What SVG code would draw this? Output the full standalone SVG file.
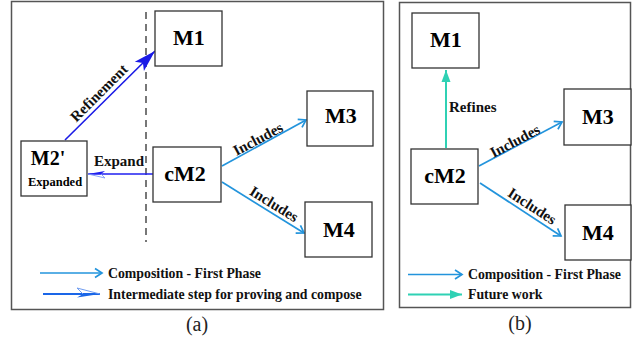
<svg xmlns="http://www.w3.org/2000/svg" width="632" height="340" viewBox="0 0 632 340">
  <style>
    .frame { fill: none; stroke: #555; stroke-width: 1.5; }
    .box { fill: #fff; stroke: #333; stroke-width: 1.3; }
    .node { font-family: "Liberation Serif", "Times New Roman", serif; font-weight: bold; font-size: 22px; fill: #000; text-anchor: middle; }
    .lbl { font-family: "Liberation Serif", "Times New Roman", serif; font-weight: bold; font-size: 15px; fill: #111; }
    .leg { font-family: "Liberation Serif", "Times New Roman", serif; font-weight: bold; font-size: 13.8px; fill: #111; }
    .cap { font-family: "Liberation Serif", "Times New Roman", serif; font-size: 20px; fill: #222; text-anchor: middle; }
    .comp { fill: none; stroke: #2394dc; stroke-width: 1.7; marker-end: url(#chev); }
    .refine { fill: none; stroke: #1a1ae6; stroke-width: 1.6; marker-end: url(#solidBlue); }
    .expand { fill: none; stroke: #1f1ff0; stroke-width: 1.5; marker-end: url(#harpoon); }
    .future { fill: none; stroke: #2fd1b4; stroke-width: 2; marker-end: url(#solidTeal); }
  </style>
  <defs>
    <marker id="chev" markerUnits="userSpaceOnUse" viewBox="-10 -7 12 14" refX="0" refY="0" markerWidth="12" markerHeight="14" orient="auto" overflow="visible">
      <path d="M-7,-4.5 L0,0 L-7,4.5" fill="none" stroke="#2394dc" stroke-width="1.7"/>
    </marker>
    <marker id="solidBlue" markerUnits="userSpaceOnUse" viewBox="-24 -9 26 18" refX="0" refY="0" markerWidth="26" markerHeight="18" orient="auto" overflow="visible">
      <path d="M0,0 L-22,-6.5 L-17,0 L-22,6.5 Z" fill="#1a1ae6"/>
    </marker>
    <marker id="harpoon" markerUnits="userSpaceOnUse" viewBox="-20 -8 22 16" refX="0" refY="0" markerWidth="22" markerHeight="16" orient="auto" overflow="visible">
      <path d="M0,0 L-17,3 L-13,0 Z" fill="#1f1ff0"/>
      <path d="M0,0 L-17,-4 L-13,0" fill="none" stroke="#7f9cf5" stroke-width="0.9"/>
    </marker>
    <marker id="harpoonBig" markerUnits="userSpaceOnUse" viewBox="-26 -9 28 18" refX="0" refY="0" markerWidth="28" markerHeight="18" orient="auto" overflow="visible">
      <path d="M0,0 L-23,3.5 L-17,0 Z" fill="#1a66e8"/>
      <path d="M0,0 L-23,-6 L-17,0" fill="none" stroke="#6f9cf0" stroke-width="1"/>
    </marker>
    <marker id="solidTeal" markerUnits="userSpaceOnUse" viewBox="-14 -6 16 12" refX="0" refY="0" markerWidth="16" markerHeight="12" orient="auto" overflow="visible">
      <path d="M0,0 L-12,-4.5 L-12,4.5 Z" fill="#2fd1b4"/>
    </marker>
  </defs>

  <!-- panel frames -->
  <rect class="frame" x="11.5" y="1.5" width="372" height="308"/>
  <rect class="frame" x="399.5" y="2.5" width="231" height="305"/>

  <!-- phase separator in panel (a) -->
  <line x1="146" y1="12" x2="146" y2="242" stroke="#777" stroke-width="2" stroke-dasharray="7,5"/>

  <!-- connectors -->
  <g id="connectors">
    <line class="refine" x1="65" y1="140" x2="155" y2="51"/>
    <line class="expand" x1="153" y1="174" x2="88" y2="174"/>
    <line class="comp" x1="222" y1="166" x2="306" y2="120"/>
    <line class="comp" x1="222" y1="182" x2="304" y2="233"/>
    <line class="future" x1="446" y1="148" x2="446" y2="70"/>
    <line class="comp" x1="479" y1="166" x2="562" y2="122"/>
    <line class="comp" x1="480" y1="183" x2="561" y2="236"/>
    <text class="lbl" text-anchor="middle" transform="translate(102.5,96.5) rotate(-45)">Refinement</text>
    <text class="lbl" text-anchor="middle" x="119" y="166">Expand</text>
    <text class="lbl" text-anchor="middle" transform="translate(260.3,143.4) rotate(-28)">Includes</text>
    <text class="lbl" text-anchor="middle" transform="translate(271.4,208.3) rotate(32)">Includes</text>
    <text class="lbl" x="449" y="112">Refines</text>
    <text class="lbl" text-anchor="middle" transform="translate(517.3,145.4) rotate(-28)">Includes</text>
    <text class="lbl" text-anchor="middle" transform="translate(529.4,210.3) rotate(33)">Includes</text>
  </g>

  <!-- panel (a) nodes -->
  <g id="a-M1">
    <rect class="box" x="155" y="11" width="67" height="55"/>
    <text class="node" x="189" y="45">M1</text>
  </g>
  <g id="a-cM2">
    <rect class="box" x="153" y="147" width="68" height="55"/>
    <text class="node" x="185" y="181">cM2</text>
  </g>
  <g id="a-M2exp">
    <rect class="box" x="21" y="141" width="66" height="55"/>
    <text class="node" x="48" y="165" style="font-size:20px">M2'</text>
    <text class="node" x="55" y="186" style="font-size:12.5px">Expanded</text>
  </g>
  <g id="a-M3">
    <rect class="box" x="307" y="91" width="66" height="55"/>
    <text class="node" x="341" y="123">M3</text>
  </g>
  <g id="a-M4">
    <rect class="box" x="305" y="202" width="67" height="55"/>
    <text class="node" x="339" y="237">M4</text>
  </g>

  <!-- panel (a) legend -->
  <g id="a-legend">
    <line class="comp" x1="40" y1="273" x2="102" y2="273"/>
    <text class="leg" x="108" y="277.5">Composition - First Phase</text>
    <line x1="43" y1="294" x2="100" y2="294" stroke="#1a66e8" stroke-width="1.8" marker-end="url(#harpoonBig)"/>
    <text class="leg" x="108" y="298.5">Intermediate step for proving and compose</text>
  </g>

  <!-- panel (b) nodes -->
  <g id="b-M1">
    <rect class="box" x="412" y="13" width="67" height="55"/>
    <text class="node" x="446" y="47">M1</text>
  </g>
  <g id="b-cM2">
    <rect class="box" x="411" y="149" width="67" height="55"/>
    <text class="node" x="445" y="183">cM2</text>
  </g>
  <g id="b-M3">
    <rect class="box" x="564" y="89" width="67" height="56"/>
    <text class="node" x="598" y="124">M3</text>
  </g>
  <g id="b-M4">
    <rect class="box" x="565" y="205" width="66" height="55"/>
    <text class="node" x="598" y="240">M4</text>
  </g>

  <!-- panel (b) legend -->
  <g id="b-legend">
    <line class="comp" x1="408" y1="274.5" x2="462" y2="274.5"/>
    <text class="leg" x="468" y="279">Composition - First Phase</text>
    <line class="future" x1="408" y1="294.5" x2="462" y2="294.5"/>
    <text class="leg" x="468" y="299">Future work</text>
  </g>

  <!-- captions -->
  <text class="cap" x="197" y="331">(a)</text>
  <text class="cap" x="520" y="330">(b)</text>
</svg>
